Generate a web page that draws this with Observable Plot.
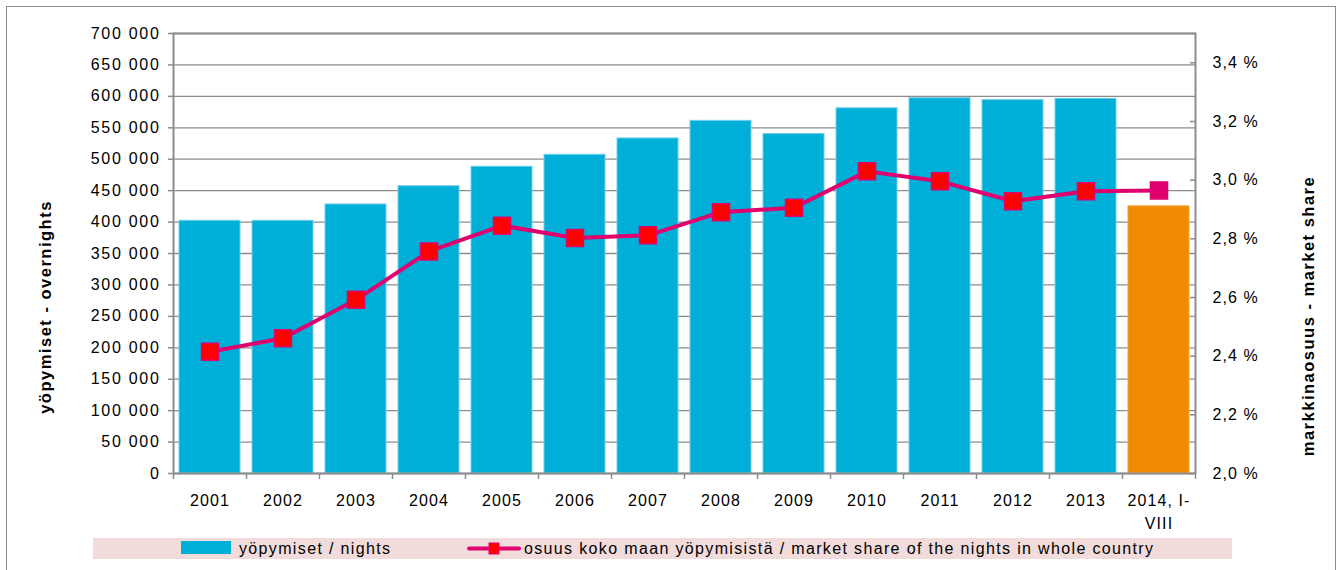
<!DOCTYPE html>
<html><head><meta charset="utf-8">
<script src="https://cdn.jsdelivr.net/npm/d3@7"></script>
<script src="https://cdn.jsdelivr.net/npm/@observablehq/plot@0.6"></script>
<style>
html,body{margin:0;padding:0;background:#fff;overflow:hidden;}
#wrap{position:relative;width:1339px;height:570px;font-family:"Liberation Sans",Arial,sans-serif;color:#000;}
#frame{position:absolute;left:6px;top:6px;width:1330px;height:620px;border:1.5px solid #8c8c8c;box-sizing:border-box;}
#chart{position:absolute;left:0;top:0;}
.ytitle{position:absolute;font-weight:bold;font-size:16.5px;letter-spacing:1.5px;white-space:nowrap;transform:translate(-50%,-50%) rotate(-90deg);}
#legend{position:absolute;left:93px;top:538px;width:1139px;height:21px;background:#f2dcdb;font-size:16px;letter-spacing:1.35px;}
#legend .t{position:absolute;top:0;line-height:21px;white-space:nowrap;}
#legend svg{position:absolute;top:0;}
</style></head>
<body>
<div id="wrap">
  <div id="frame"></div>
  <div id="chart"></div>
  <div class="ytitle" id="lt" style="left:45px;top:307px;">yöpymiset - overnights</div>
  <div class="ytitle" id="rt" style="left:1308px;top:316px;">markkinaosuus - market share</div>
  <div id="legend">
    <svg width="60" height="21" style="left:88px"><rect x="0" y="3" width="50" height="13" fill="#00afd7"></rect></svg>
    <div class="t" style="left:146px">yöpymiset / nights</div>
    <svg width="60" height="21" style="left:374px"><line x1="2" x2="52" y1="10.5" y2="10.5" stroke="#e0006e" stroke-width="4" stroke-linecap="round"></line><rect x="22" y="5" width="10" height="11" fill="#ff0000" stroke="#e0006e" stroke-width="1"></rect></svg>
    <div class="t" style="left:431px">osuus koko maan yöpymisistä / market share of the nights in whole country</div>
  </div>
</div>
<script>
const years = ["2001","2002","2003","2004","2005","2006","2007","2008","2009","2010","2011","2012","2013","2014, I-\nVIII"];
const nights = [402000, 402000, 428000, 457000, 488000, 507000, 533000, 561000, 540000, 581000, 597000, 594000, 596000, 425000];
const share = [2.415, 2.461, 2.592, 2.757, 2.845, 2.803, 2.812, 2.891, 2.906, 3.030, 2.996, 2.928, 2.962, 2.965];
const leftTicks = [0,50000,100000,150000,200000,250000,300000,350000,400000,450000,500000,550000,600000,650000,700000];
const shareTicks = [2.0,2.2,2.4,2.6,2.8,3.0,3.2,3.4];
const nightsMax = 700000;
const shareMin = 2.0, shareMax = 3.5;

const toY = p => (p - shareMin) / (shareMax - shareMin) * nightsMax;
const fromY = v => shareMin + v / nightsMax * (shareMax - shareMin);
const lastYear = years[years.length - 1];
const data = years.map((year, i) => ({year, nights: nights[i], share: share[i], partial: year === lastYear}));

const grey = "#8c8c8c";
const blue = "#00afd7", orange = "#f08a00", magenta = "#e0006e", red = "#ff0000";

const chart = Plot.plot({
  width: 1339, height: 530,
  marginLeft: 173, marginRight: 144, marginTop: 33, marginBottom: 57,
  style: {fontFamily: '"Liberation Sans", Arial, sans-serif', fontSize: "16px", letterSpacing: "1.1px", color: "#000", background: "transparent", overflow: "visible"},
  x: {domain: years, paddingInner: 0.17, paddingOuter: 0.085, axis: null},
  y: {domain: [0, nightsMax], axis: null},
  marks: [
    Plot.gridY(leftTicks, {stroke: grey, strokeOpacity: 1, strokeWidth: 1.3}),
    Plot.barY(data, {x: "year", y: "nights", fill: d => d.partial ? orange : blue, stroke: d => d.partial ? "#f4a640" : "#6fcde9", strokeWidth: 1}),
    Plot.frame({stroke: grey, strokeWidth: 2}),
    Plot.axisY({anchor: "left", ticks: leftTicks, tickSize: 5, tickPadding: 8, stroke: grey, strokeWidth: 1.5, tickFormat: d => d3.format(",")(d).replace(/,/g, " "), label: null, className: "left-labels"}),
    Plot.axisY({anchor: "right", ticks: shareTicks.map(toY), tickSize: 6, dx: -6, stroke: grey, strokeWidth: 1.5, tickFormat: () => "", label: null}),
    Plot.axisY({anchor: "right", ticks: shareTicks.map(toY), tickSize: 0, tickPadding: 17, tickFormat: v => fromY(v).toFixed(1).replace(".", ",") + " %", label: null}),
    Plot.axisX({ticks: years, tickSize: 6, dx: -36.5, stroke: grey, strokeWidth: 1.5, tickFormat: () => "", label: null}),
    Plot.axisX({ticks: [lastYear], tickSize: 6, dx: 36.5, stroke: grey, strokeWidth: 1.5, tickFormat: () => "", label: null}),
    Plot.axisX({ticks: years, tickSize: 0, tickPadding: 17, lineHeight: 1.4, label: null}),
    Plot.line(data, {x: "year", y: d => toY(d.share), stroke: magenta, strokeWidth: 4}),
    Plot.dot(data, {x: "year", y: d => toY(d.share), symbol: "square", r: 9.6, fill: d => d.partial ? magenta : red, stroke: magenta, strokeWidth: 1.5})
  ]
});
// widen the letter spacing of the left axis labels only
const leftLabelGroups = chart.querySelectorAll('g[aria-label="y-axis tick label"]');
if (leftLabelGroups.length) leftLabelGroups[0].style.letterSpacing = "1.7px";
document.getElementById("chart").appendChild(chart);
</script>
</body></html>
